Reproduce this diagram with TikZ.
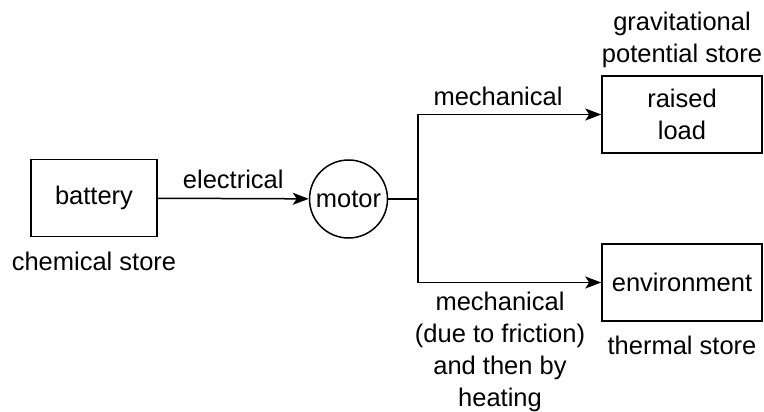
\documentclass[tikz,border=0pt]{standalone}
\usepackage{fontspec}
\setmainfont{Liberation Sans}
\usetikzlibrary{arrows.meta, positioning}
\tikzset{
  every picture/.style={line width=1.5pt},
  store/.style={draw, minimum width=#1, minimum height=77pt, align=center, inner sep=0pt},
  store/.default=160pt,
  device/.style={draw, circle, minimum size=78pt, inner sep=0pt},
  flow/.style={-{Stealth[length=16pt, width=12pt, inset=4pt]}},
  note/.style={align=center, inner sep=0pt},
}

\begin{document}
\begin{tikzpicture}[x=1pt, y=-1pt, every node/.append style={font=\fontsize{25.5}{32}\selectfont}]
  \useasboundingbox (0,0) rectangle (764,412);
  % stores and the motor
  \node[store=126pt] (battery) at (94,198) {battery};
  \node[device] (motor) at (348.5,199) {motor};
  \node[store] (load) at (682,114.5) {raised\\load};
  \node[store] (env) at (682,282.5) {environment};
  \coordinate (split) at (418,199);
  % store names
  \node[note] (chem) at (94,261) {chemical store};
  \node[note] (grav) at (682,40) {gravitational\\potential store};
  \node[note] (therm) at (682,345) {thermal store};
  % transfers
  \draw[flow] (battery) -- node[above=9pt, note] (elec) {electrical} (motor);
  \draw (motor) -- (split);
  \draw[flow] (split) |- (load);
  \draw[flow] (split) |- (env);
  \node[note] (mech) at (498,96) {mechanical};
  \node[note] (fric) at (500,352) {mechanical\\(due to friction)\\and then by\\heating};
\end{tikzpicture}
\end{document}
